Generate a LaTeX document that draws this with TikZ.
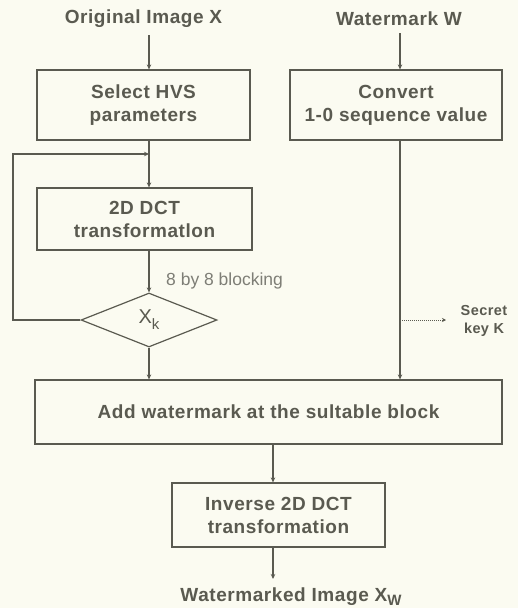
\documentclass[tikz,border=0pt]{standalone}
\usepackage{fontspec}
\setmainfont{Liberation Sans}
\newfontfamily\boxfont{Liberation Sans}[LetterSpace=3]
\usetikzlibrary{arrows.meta,shapes.geometric}
\definecolor{paper}{HTML}{FBFBF1}
\definecolor{ink}{HTML}{5A5A50}
\definecolor{lightink}{HTML}{7E7E76}
\begin{document}
\begin{tikzpicture}[x=1pt,y=-1pt,
  line/.style={draw=ink, line width=1.2pt},
  arr/.style={line, -{Stealth[length=5pt,width=4.5pt]}},
  boxtext/.style={text=ink, font=\boxfont\bfseries\fontsize{19}{23}\selectfont, align=center, inner sep=0pt},
  stepbox/.style={boxtext, draw=ink, line width=1.2pt, fill=paper},
  title/.style={boxtext}]
  % page
  \fill[paper] (0,0) rectangle (518,608);
  \useasboundingbox (0,0) rectangle (518,608);

  % inputs
  \node[title] (orig) at (143.5,19) {Original Image X};
  \node[title] (wm) at (399,19) {Watermark W};

  % boxes
  \node[stepbox, minimum width=213pt, minimum height=70pt] (sel) at (143.5,105) {Select HVS\\parameters};
  \node[stepbox, minimum width=212pt, minimum height=70pt] (conv) at (396,105) {Convert\\1-0 sequence value};
  \node[stepbox, minimum width=215pt, minimum height=62pt] (dct) at (144.5,219) {2D DCT\\transformatlon};
  \node[draw=ink, line width=1.2pt, fill=paper, shape=diamond, minimum width=136pt, minimum height=54pt, inner sep=0pt,
        text=ink, font=\fontsize{20}{23}\selectfont] (dia) at (149,320) {X\raisebox{-6pt}{\fontsize{15}{15}\selectfont k}};
  \node[stepbox, minimum width=467pt, minimum height=64pt] (add) at (268.5,412) {Add watermark at the sultable block};
  \node[stepbox, minimum width=213pt, minimum height=64pt] (inv) at (278.5,515) {Inverse 2D DCT\\transformation};

  % labels
  \node[anchor=west, inner sep=0pt, text=lightink, font=\fontsize{17.5}{20}\selectfont] (blk) at (166,281) {8 by 8 blocking};
  \node[boxtext, font=\boxfont\bfseries\fontsize{14.5}{18}\selectfont] (key) at (484,321) {Secret\\key K};
  \node[title] (out) at (291,597) {Watermarked Image X\raisebox{-4pt}{\fontsize{15}{15}\selectfont W}};

  % column guides
  \coordinate (c1) at (149,0);
  \coordinate (c2) at (400,0);
  \coordinate (c3) at (273,0);
  \coordinate (j) at (149,154);
  \coordinate (lft) at (13,320);
  \coordinate (ks) at (400,320);
  \coordinate (ke) at (446,320);
  \coordinate (oe) at (273,579);

  % connectors
  \draw[arr] (orig.south -| c1) ++(0,7) -- (sel.north -| c1);
  \draw[arr] (wm.south -| c2) ++(0,7) -- (conv.north -| c2);
  \draw[line] (sel.south -| c1) -- (j);
  \draw[arr] (j) -- (dct.north -| c1);
  \draw[arr] (dia.west) -- (lft) |- (j);
  \draw[arr] (dct.south -| c1) -- (dia.north);
  \draw[arr] (dia.south) -- (add.north -| dia.south);
  \draw[arr] (conv.south -| c2) -- (add.north -| c2);
  \draw[draw=ink, line width=1pt, densely dotted, -{Stealth[length=4pt,width=4pt]}] (ks) -- (ke);
  \draw[arr] (add.south -| c3) -- (inv.north -| c3);
  \draw[arr] (inv.south -| c3) -- (oe);
\end{tikzpicture}
\end{document}
